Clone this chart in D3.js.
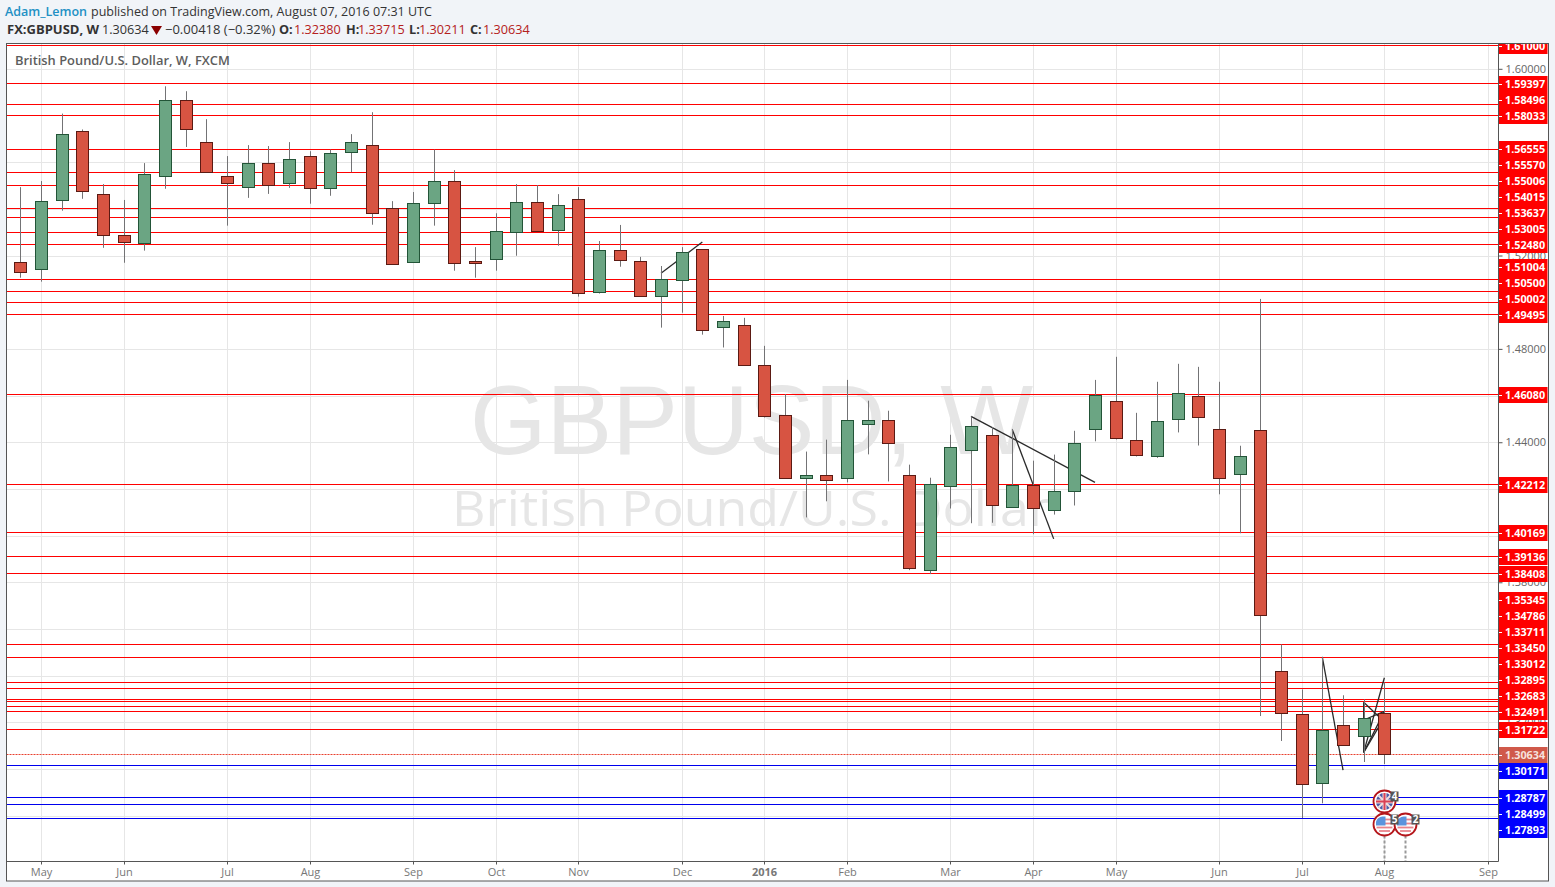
<!DOCTYPE html>
<html>
<head>
<meta charset="utf-8">
<script src="https://cdn.jsdelivr.net/npm/d3@7"></script>
<style>
html, body { margin: 0; padding: 0; background: #f1f4f8; overflow: hidden; }
text { font-family: "Open Sans", "Noto Sans", sans-serif; }
</style>
</head>
<body>
<svg id="chart" width="1555" height="887"></svg>
<script>
// weekly candles
var opens = [1.5171,1.5141,1.5436,1.5731,1.5462,1.5287,1.5252,1.5539,1.5864,1.5684,1.5539,1.5492,1.5594,1.5509,1.5624,1.5488,1.5642,1.5671,1.5402,1.5171,1.5423,1.5518,1.5175,1.5184,1.5299,1.5428,1.5308,1.5441,1.5043,1.5222,1.5175,1.5026,1.5094,1.5227,1.4893,1.4902,1.4730,1.4517,1.4247,1.4260,1.4247,1.4478,1.4495,1.4260,1.3853,1.4213,1.4367,1.4431,1.4123,1.4217,1.4110,1.4191,1.4457,1.4576,1.4410,1.4341,1.4499,1.4598,1.4457,1.4264,1.4452,1.3421,1.3235,1.2940,1.3188,1.3141,1.32380];
var highs = [1.5493,1.5519,1.5808,1.5740,1.5506,1.5438,1.5596,1.5925,1.5904,1.5784,1.5626,1.5673,1.5669,1.5686,1.5647,1.5654,1.5720,1.5814,1.5433,1.5472,1.5654,1.5566,1.5236,1.5381,1.5506,1.5502,1.5463,1.5493,1.5262,1.5331,1.5194,1.5155,1.5236,1.5227,1.4941,1.4933,1.4813,1.4606,1.4360,1.4411,1.4667,1.4578,1.4535,1.4304,1.4248,1.4432,1.4511,1.4465,1.4457,1.4321,1.4347,1.4449,1.4667,1.4766,1.4526,1.4659,1.4736,1.4723,1.4659,1.4385,1.5014,1.3534,1.3341,1.3481,1.3316,1.3299,1.33715];
var lows = [1.5105,1.5088,1.5392,1.5443,1.5233,1.5169,1.5221,1.5486,1.5665,1.5556,1.5328,1.5447,1.5464,1.5490,1.5422,1.5456,1.5557,1.5332,1.5162,1.5171,1.5328,1.5135,1.5105,1.5135,1.5199,1.5304,1.5242,1.5024,1.5037,1.5152,1.5026,1.4891,1.4955,1.4861,1.4806,1.4730,1.4506,1.4247,1.4078,1.4147,1.4228,1.4348,1.4232,1.3852,1.3835,1.4116,1.4053,1.4055,1.4123,1.4006,1.4090,1.4129,1.4404,1.4412,1.4339,1.4333,1.4442,1.4386,1.4177,1.4010,1.3227,1.3120,1.2790,1.2853,1.3105,1.3030,1.30211];
var closes = [1.5127,1.5432,1.5719,1.5475,1.5287,1.5257,1.5547,1.5864,1.5740,1.5556,1.5509,1.5594,1.5500,1.5612,1.5488,1.5637,1.5684,1.5381,1.5162,1.5423,1.5518,1.5167,1.5167,1.5304,1.5428,1.5304,1.5415,1.5038,1.5222,1.5180,1.5026,1.5098,1.5214,1.4880,1.4919,1.4730,1.4512,1.4247,1.4260,1.4238,1.4495,1.4495,1.4397,1.3862,1.4221,1.4380,1.4469,1.4131,1.4217,1.4119,1.4191,1.4397,1.4602,1.4418,1.4345,1.4491,1.4611,1.4508,1.4247,1.4341,1.3658,1.3240,1.2936,1.3168,1.3103,1.3218,1.30634];

var monthWeeks = [1,5,10,14,19,23,27,32,36,40,45,49,53,58,62,66,71];
var monthNames = ["May","Jun","Jul","Aug","Sep","Oct","Nov","Dec","2016","Feb","Mar","Apr","May","Jun","Jul","Aug","Sep"];

var priceTicks = [1.28,1.30,1.32,1.34,1.36,1.38,1.40,1.42,1.44,1.46,1.48,1.50,1.52,1.54,1.56,1.58,1.60];

var redLevels = [1.61,1.59397,1.58496,1.58033,1.56555,1.5557,1.55006,1.54015,1.53637,1.53005,1.5248,1.51004,1.505,1.50002,1.49495,1.4608,1.42212,1.40169,1.39136,1.38408,1.35345,1.34786,1.33711,1.3345,1.33012,1.32895,1.32683,1.32491,1.31722];
var blueLevels = [1.30171,1.28787,1.28499,1.27893];
var lastPrice = 1.30634;

// hand drawn trend lines: start week, start price, end week, end price
var trendFromWeek = [31,46,48,63,65,65,65,65,65,65];
var trendFromPrice = [1.5124,1.4511,1.4454,1.3478,1.3071,1.3071,1.3071,1.3286,1.3286,1.3210];
var trendToWeek = [33,52,50,64,66,66,66,65.7,65,66];
var trendToPrice = [1.5258,1.4228,1.3986,1.2995,1.3391,1.3247,1.3221,1.3227,1.3071,1.3247];

// economic calendar flags
var eventWeek = [66,66,67];
var eventFlag = ["uk","us","us"];
var eventRow = [0,1,1];
var eventCount = ["4","5","2"];

var plotLeft = 6.5, plotRight = 1498.5, plotTop = 43.5, plotBottom = 861.5, frameRight = 1548.5, frameBottom = 881;

var x = d3.scaleLinear().domain([0, 71]).range([20.3, 1487.7]);
var y = d3.scaleLinear().domain([1.6, 1.30634]).range([68.8, 754.2]);
var px = function(v) { return Math.round(x(v)) + 0.5; };
var py = function(v) { return Math.round(y(v)) + 0.5; };
var cy = function(v) { return Math.floor(y(v) + 0.4) + 0.5; };

var svg = d3.select("#chart");

// header
var top1 = svg.append("g").attr("font-size", 12.5).attr("fill", "#333");
top1.append("text").attr("x", 5).attr("y", 16).attr("fill", "#2190c4").attr("font-weight", 600).text("Adam_Lemon");
top1.append("text").attr("x", 91).attr("y", 16).text("published on TradingView.com, August 07, 2016 07:31 UTC");

var last = opens.length - 1;
var top2 = svg.append("g").attr("font-size", 12.7).attr("fill", "#333");
top2.append("text").attr("x", 7).attr("y", 34).attr("font-size", 13).attr("font-weight", 700).text("FX:GBPUSD, W");
top2.append("text").attr("x", 102).attr("y", 34).text(closes[last].toFixed(5));
top2.append("path").attr("d", "M151,26H162L156.5,35Z").attr("fill", "#8b0000");
top2.append("text").attr("x", 165).attr("y", 34).attr("font-size", 13).text("\u22120.00418 (\u22120.32%)");
[["O:", 279, opens[last], 294], ["H:", 346, highs[last], 358], ["L:", 409, lows[last], 419], ["C:", 470, closes[last], 483]].forEach(function(d) {
    top2.append("text").attr("x", d[1]).attr("y", 34).attr("font-weight", 700).text(d[0]);
    top2.append("text").attr("x", d[3]).attr("y", 34).attr("fill", "#b52020").text(d[2].toFixed(5));
});

// panels
svg.append("rect").attr("x", plotLeft).attr("y", plotTop).attr("width", frameRight - plotLeft).attr("height", frameBottom - plotTop).attr("fill", "#fff");

svg.append("clipPath").attr("id", "plotClip").append("rect")
    .attr("x", plotLeft).attr("y", plotTop).attr("width", plotRight - plotLeft).attr("height", plotBottom - plotTop);
svg.append("clipPath").attr("id", "axisClip").append("rect")
    .attr("x", plotRight).attr("y", plotTop).attr("width", frameRight - plotRight).attr("height", plotBottom - plotTop);

var plot = svg.append("g").attr("clip-path", "url(#plotClip)");

// grid
plot.selectAll("line.gx").data(monthWeeks).enter().append("line").attr("class", "gx")
    .attr("x1", px).attr("x2", px).attr("y1", plotTop).attr("y2", plotBottom)
    .attr("stroke", "#e6e6e6");
plot.selectAll("line.gy").data(priceTicks).enter().append("line").attr("class", "gy")
    .attr("x1", plotLeft).attr("x2", plotRight).attr("y1", py).attr("y2", py)
    .attr("stroke", "#e6e6e6");

// watermark
plot.append("text").attr("x", 470).attr("y", 454).attr("font-size", 98).attr("fill", "#e6e6e6")
    .attr("textLength", 563).attr("lengthAdjust", "spacingAndGlyphs")
    .style("font-family", "'Liberation Sans', sans-serif").text("GBPUSD, W");
plot.append("text").attr("x", 452).attr("y", 526).attr("font-size", 49).attr("fill", "#e6e6e6")
    .attr("textLength", 598).attr("lengthAdjust", "spacingAndGlyphs").text("British Pound/U.S. Dollar");

// support and resistance levels
plot.selectAll("line.red").data(redLevels).enter().append("line").attr("class", "red")
    .attr("x1", plotLeft).attr("x2", plotRight).attr("y1", py).attr("y2", py)
    .attr("stroke", "#ff0000");
plot.selectAll("line.blue").data(blueLevels).enter().append("line").attr("class", "blue")
    .attr("x1", plotLeft).attr("x2", plotRight).attr("y1", py).attr("y2", py)
    .attr("stroke", "#0000ee");
plot.append("line").attr("x1", plotLeft).attr("x2", plotRight).attr("y1", py(lastPrice)).attr("y2", py(lastPrice))
    .attr("stroke", "#e8402f").attr("stroke-dasharray", "2,1");

// trend lines go under the candles
plot.selectAll("line.trend").data(trendFromWeek).enter().append("line").attr("class", "trend")
    .attr("x1", function(d) { return x(d); })
    .attr("y1", function(d, i) { return y(trendFromPrice[i]); })
    .attr("x2", function(d, i) { return x(trendToWeek[i]); })
    .attr("y2", function(d, i) { return y(trendToPrice[i]); })
    .attr("stroke", "#2a2a2a").attr("stroke-width", 1.3);

// candles
var candle = plot.selectAll("g.candle").data(opens).enter().append("g").attr("class", "candle");
candle.append("line")
    .attr("x1", function(d, i) { return px(i); }).attr("x2", function(d, i) { return px(i); })
    .attr("y1", function(d, i) { return y(highs[i]); }).attr("y2", function(d, i) { return y(lows[i]); })
    .attr("stroke", "#737375");
candle.append("rect")
    .attr("x", function(d, i) { return px(i) - 6; })
    .attr("width", 12)
    .attr("y", function(d, i) { return cy(Math.max(d, closes[i])); })
    .attr("height", function(d, i) { return Math.max(1, cy(Math.min(d, closes[i])) - cy(Math.max(d, closes[i]))); })
    .attr("fill", function(d, i) { return closes[i] > d ? "#6ba583" : "#d75442"; })
    .attr("stroke", function(d, i) { return closes[i] > d ? "#225437" : "#5b1a13"; });

// calendar event flags
var flag = svg.append("g").selectAll("g").data(eventWeek).enter().append("g")
    .attr("transform", function(d, i) { return "translate(" + (Math.round(x(d)) + 0.5) + "," + (801.5 + eventRow[i] * 23) + ")"; });
flag.filter(function(d, i) { return eventRow[i] == 1; }).append("line")
    .attr("x1", 0).attr("x2", 0).attr("y1", 11).attr("y2", plotBottom - 824.5)
    .attr("stroke", "#999").attr("stroke-width", 2).attr("stroke-dasharray", "3,2");
flag.append("circle").attr("r", 11).attr("fill", "#fff").attr("stroke", "#b5161b").attr("stroke-width", 1.8);
flag.each(function(d, i) {
    var g = d3.select(this);
    if (eventFlag[i] == "uk") {
        g.append("circle").attr("r", 8.5).attr("fill", "#4a5aa8");
        g.append("path").attr("d", "M-6,-6L6,6M6,-6L-6,6").attr("stroke", "#f3dede").attr("stroke-width", 2);
        g.append("path").attr("d", "M-8.5,0H8.5M0,-8.5V8.5").attr("stroke", "#f3dede").attr("stroke-width", 4);
        g.append("path").attr("d", "M-8.5,0H8.5M0,-8.5V8.5").attr("stroke", "#d94155").attr("stroke-width", 2);
    } else {
        [-5, -1, 3, 6.5].forEach(function(s) {
            var h = Math.sqrt(72 - s * s);
            g.append("line").attr("x1", -h).attr("x2", h).attr("y1", s).attr("y2", s).attr("stroke", "#e9848c").attr("stroke-width", 1.8);
        });
        g.append("path").attr("d", "M-8.5,1V-3A8.5,8.5 0 0 1 -2,-8H1V1Z").attr("fill", "#5b94dd");
    }
});
// count badges sit on top of all the flags
var badge = svg.append("g").selectAll("g").data(eventWeek).enter().append("g")
    .attr("transform", function(d, i) { return "translate(" + (Math.round(x(d)) + 0.5) + "," + (801.5 + eventRow[i] * 23) + ")"; });
badge.append("rect").attr("x", 6).attr("y", -10).attr("width", 8).attr("height", 10).attr("fill", "#555");
badge.append("text").attr("x", 10).attr("y", -1.5).attr("text-anchor", "middle").attr("font-size", 10).attr("font-weight", 700).attr("fill", "#fff")
    .text(function(d, i) { return eventCount[i]; });

// axes
var yAxis = d3.axisRight(y).tickValues(priceTicks).tickSize(4).tickFormat(function(d) { return d.toFixed(5); });
var xAxis = d3.axisBottom(x).tickValues(monthWeeks).tickSize(3).tickFormat(function(d, i) { return monthNames[i]; });

var gx = svg.append("g").attr("transform", "translate(0," + plotBottom + ")").call(xAxis);
gx.select(".domain").remove();
gx.selectAll(".tick").attr("transform", function(d) { return "translate(" + px(d) + ",0)"; });
gx.selectAll("line").attr("stroke", "#555");
gx.selectAll("text").attr("fill", "#777").attr("font-size", 11).attr("y", 7).style("font-family", "'Open Sans', sans-serif")
    .attr("font-weight", function(d, i) { return monthNames[i] == "2016" ? 700 : 400; });

var axisLayer = svg.append("g").attr("clip-path", "url(#axisClip)");
var gy = axisLayer.append("g").attr("transform", "translate(" + plotRight + ",0)").call(yAxis);
gy.select(".domain").remove();
gy.selectAll("line").attr("stroke", "#555");
gy.selectAll("text").attr("fill", "#666").attr("font-size", 11).attr("x", 7).style("font-family", "'Open Sans', sans-serif");

// price labels: walk out from the last price and push overlapping tags away from it
var tags = redLevels.map(function(v) { return { v: v, fill: "#ff0000" }; })
    .concat(blueLevels.map(function(v) { return { v: v, fill: "#0000ff" }; }))
    .concat([{ v: lastPrice, fill: "#d0594a", isLast: true }])
    .sort(function(a, b) { return d3.descending(a.v, b.v); });
var lastIdx = tags.findIndex(function(t) { return t.isLast; });
tags.forEach(function(t) { t.cy = y(t.v); });
var tagH = 16;
for (var a = lastIdx - 1; a >= 0; a--) tags[a].cy = Math.min(tags[a].cy, tags[a + 1].cy - tagH);
for (var b = lastIdx + 1; b < tags.length; b++) tags[b].cy = Math.max(tags[b].cy, tags[b - 1].cy + tagH);
tags.forEach(function(t) { t.cy = Math.round(t.cy) + 1; });

var tag = axisLayer.selectAll("g.tag").data(tags).enter().append("g").attr("class", "tag")
    .attr("transform", function(t) { return "translate(" + (plotRight + 0.5) + "," + t.cy + ")"; });
tag.append("rect").attr("x", 0).attr("y", -tagH / 2).attr("width", 48.5).attr("height", tagH).attr("fill", function(t) { return t.fill; });
tag.append("line").attr("x1", 0).attr("x2", 3).attr("y1", 0.5).attr("y2", 0.5).attr("stroke", "#fff");
tag.append("text").attr("x", 6).attr("y", 4).attr("font-size", 10.8).attr("font-weight", 700)
    .attr("fill", function(t) { return t.isLast ? "#f6e2de" : "#fff"; })
    .text(function(t) { return t.v.toFixed(5); });

// legend title over the plot
svg.append("text").attr("x", 15).attr("y", 65).attr("font-size", 12.9).attr("font-weight", 600).attr("fill", "#5d5d5d")
    .text("British Pound/U.S. Dollar, W, FXCM");

// frame
var frame = svg.append("g").attr("fill", "none").attr("stroke", "#555");
frame.append("rect").attr("x", plotLeft).attr("y", plotTop).attr("width", frameRight - plotLeft).attr("height", frameBottom - plotTop);
frame.append("line").attr("x1", plotLeft).attr("x2", plotRight).attr("y1", plotBottom).attr("y2", plotBottom);
frame.append("line").attr("x1", plotRight).attr("x2", plotRight).attr("y1", plotTop).attr("y2", plotBottom);
</script>
</body>
</html>
